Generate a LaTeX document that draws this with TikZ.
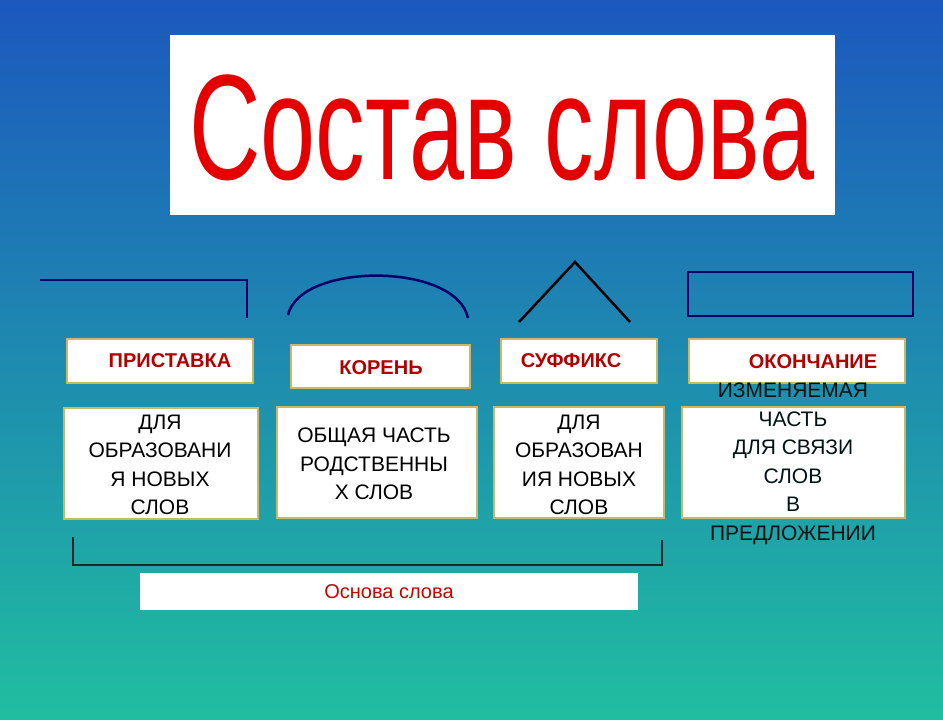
\documentclass[tikz,border=0pt]{standalone}
\usepackage{fontspec}
\setmainfont{Liberation Sans}
\begin{document}
\begin{tikzpicture}[x=1pt,y=-1pt,
  lbl/.style={draw=olive!60!brown!60,line width=1.2pt,fill=white,inner sep=0pt},
  lbltext/.style={text=red!70!black,font=\bfseries\fontsize{20}{22}\selectfont},
  desc/.style={draw=olive!60!brown!60,line width=1.2pt,fill=white,inner sep=0pt},
  desctext/.style={align=center,font=\fontsize{21}{28.5}\selectfont,text=black}]
\definecolor{bgtop}{RGB}{28,88,190}
\definecolor{bgmid}{RGB}{22,150,185}
\definecolor{bgbot}{RGB}{32,190,160}
\shade[top color=bgtop,middle color=bgmid,bottom color=bgbot] (0,0) rectangle (943,720);
\useasboundingbox (0,0) rectangle (943,720);
\fill[white] (170,35) rectangle (835,215);
\node[text=red!90!black,font=\fontsize{150}{150}\selectfont,xscale=0.66] (title) at (502,128) {Состав слова};
% markers
\draw[line width=2.5pt,color=blue!40!black] (40,280) -- (247,280) -- (247,318);
\draw[line width=2.5pt,color=blue!40!black] (288,315) .. controls (300,262) and (456,262) .. (468,318);
\draw[line width=2.5pt,black] (519,322) -- (575,262) -- (630,322);
\draw[line width=2.5pt,color=blue!40!black] (688,272) rectangle (913,316);
% labels
\draw[lbl] (67,339) rectangle (253,383);
\node[lbltext] (p) at (170,361) {ПРИСТАВКА};
\draw[lbl] (291,345) rectangle (470,388);
\node[lbltext] (k) at (381,368) {КОРЕНЬ};
\draw[lbl] (501,339) rectangle (657,383);
\node[lbltext] (s) at (571,361) {СУФФИКС};
\draw[lbl] (689,339) rectangle (905,383);
\node[lbltext] (o) at (813,362) {ОКОНЧАНИЕ};
% descriptions
\draw[desc] (64,408) rectangle (258,519);
\node[desctext] (dp) at (160,465) {ДЛЯ\\ОБРАЗОВАНИ\\Я НОВЫХ\\СЛОВ};
\draw[desc] (277,407) rectangle (477,518);
\node[desctext] (dk) at (374,464) {ОБЩАЯ ЧАСТЬ\\РОДСТВЕННЫ\\Х СЛОВ};
\draw[desc] (494,407) rectangle (664,518);
\node[desctext] (ds) at (579,465) {ДЛЯ\\ОБРАЗОВАН\\ИЯ НОВЫХ\\СЛОВ};
\draw[desc] (682,407) rectangle (905,518);
\node[desctext,text=black!85!teal] (do) at (793,464) {ИЗМЕНЯЕМАЯ\\ЧАСТЬ\\ДЛЯ СВЯЗИ\\СЛОВ\\В\\ПРЕДЛОЖЕНИИ};
% bracket
\draw[line width=1.5pt,black!85] (73,537) -- (73,565) -- (662,565) -- (662,540);
\fill[white] (140,573) rectangle (638,610);
\node[text=red!80!black,font=\fontsize{20}{22}\selectfont] (osn) at (389,592) {Основа слова};
\end{tikzpicture}
\end{document}
